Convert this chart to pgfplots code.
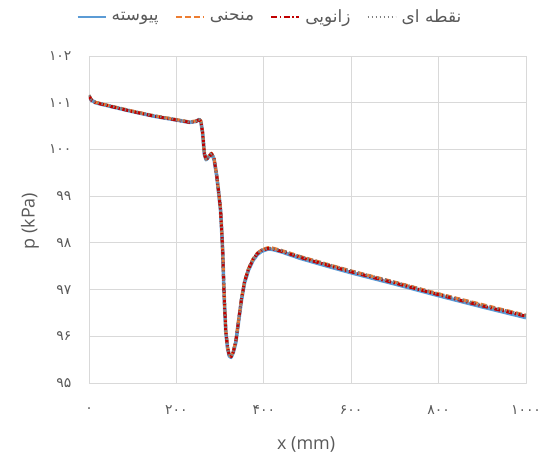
\documentclass[border=0pt]{standalone}
\usepackage{pgfplots}
\pgfplotsset{compat=1.18}
\usepackage{pgfplotstable}
\usepackage{fontspec}
\setmainfont{Open Sans}
\newfontfamily\fa[Script=Arabic]{DejaVu Sans}
\TeXXeTstate=1
\definecolor{cblue}{HTML}{5B9BD5}
\definecolor{corange}{HTML}{ED7D31}
\definecolor{cred}{HTML}{C00000}
\definecolor{cgray}{HTML}{7F7F7F}
\definecolor{ctext}{HTML}{595959}
\definecolor{cgrid}{HTML}{D9D9D9}

\pgfplotstableread{
x y
0 101.15
5 101.06
15 101.00
50 100.92
100 100.81
150 100.71
200 100.63
230 100.58
245 100.60
252 100.64
256 100.60
260 100.35
264 99.90
268 99.78
274 99.84
280 99.91
286 99.80
292 99.45
297 99.05
301 98.70
304 98.20
306 97.80
308 97.20
310 96.70
313 96.10
317 95.75
321 95.58
325 95.55
330 95.65
336 95.87
342 96.30
349 96.78
356 97.15
365 97.42
375 97.62
385 97.75
395 97.82
410 97.87
420 97.86
440 97.81
483 97.67
550 97.49
600 97.36
700 97.12
800 96.87
900 96.63
1000 96.40
}\blue

\pgfplotstableread{
x y
0 101.16
5 101.07
15 101.01
50 100.93
100 100.82
150 100.72
200 100.64
230 100.59
245 100.61
252 100.65
256 100.61
260 100.37
264 99.92
268 99.79
274 99.85
280 99.92
286 99.82
292 99.47
297 99.07
301 98.72
304 98.22
306 97.82
308 97.22
310 96.72
313 96.12
317 95.77
321 95.60
325 95.57
330 95.67
336 95.90
342 96.33
349 96.81
356 97.18
365 97.45
375 97.65
385 97.78
395 97.85
410 97.90
420 97.89
440 97.84
483 97.71
550 97.53
600 97.40
700 97.16
800 96.91
900 96.68
1000 96.45
}\orange

\pgfplotstableread{
x y
0 101.15
5 101.06
15 101.00
50 100.92
100 100.81
150 100.71
200 100.63
230 100.58
245 100.60
252 100.64
256 100.60
260 100.36
264 99.91
268 99.78
274 99.84
280 99.91
286 99.81
292 99.46
297 99.06
301 98.71
304 98.21
306 97.81
308 97.21
310 96.71
313 96.11
317 95.76
321 95.59
325 95.56
330 95.66
336 95.89
342 96.32
349 96.80
356 97.17
365 97.44
375 97.64
385 97.77
395 97.84
410 97.88
420 97.87
440 97.82
483 97.69
550 97.51
600 97.38
700 97.14
800 96.89
900 96.65
1000 96.43
}\red

\pgfplotstableread{
x y
0 101.16
5 101.07
15 101.01
50 100.93
100 100.82
150 100.72
200 100.64
230 100.59
245 100.61
252 100.65
256 100.61
260 100.37
264 99.92
268 99.79
274 99.85
280 99.92
286 99.82
292 99.47
297 99.07
301 98.72
304 98.22
306 97.82
308 97.22
310 96.72
313 96.12
317 95.77
321 95.60
325 95.57
330 95.67
336 95.90
342 96.33
349 96.81
356 97.18
365 97.45
375 97.65
385 97.78
395 97.85
410 97.89
420 97.88
440 97.84
483 97.71
550 97.53
600 97.40
700 97.16
800 96.91
900 96.67
1000 96.45
}\gray

\begin{document}
\begin{tikzpicture}
\path[use as bounding box] (-89bp,-71bp) rectangle (454bp,383bp);
\begin{axis}[
  at={(0,0)}, anchor=south west,
  scale only axis, width=437bp, height=327bp,
  xmin=0, xmax=1000, ymin=95, ymax=102,
  xtick={0,200,400,600,800,1000},
  ytick={95,96,97,98,99,100,101,102},
  xticklabels={{\fa ۰},{\fa ۲۰۰},{\fa ۴۰۰},{\fa ۶۰۰},{\fa ۸۰۰},{\fa ۱۰۰۰}},
  yticklabels={{\fa ۹۵},{\fa ۹۶},{\fa ۹۷},{\fa ۹۸},{\fa ۹۹},{\fa ۱۰۰},{\fa ۱۰۱},{\fa ۱۰۲}},
  grid=major,
  grid style={draw=cgrid, line width=0.75bp},
  axis line style={draw=cgrid, line width=0.75bp},
  major tick length=0pt,
  tick style={draw=none},
  ticklabel style={font=\fontsize{14}{16}\selectfont, text=ctext},
  xticklabel style={anchor=center, yshift=-27bp},
  yticklabel style={anchor=east, xshift=-14bp},
  xlabel={x (mm)},
  ylabel={p (kPa)},
  label style={font=\fontsize{18}{20}\selectfont, text=ctext},
  xlabel style={at={(axis description cs:0.497,-0.187)}, anchor=center},
  ylabel style={at={(axis description cs:-0.135,0.495)}, anchor=center},
  legend columns=4,
  legend style={at={(axis description cs:0.414,1)}, anchor=center, yshift=39bp,
    draw=none, fill=none, font=\fa\fontsize{17}{19}\selectfont, text=ctext,
    /tikz/every even column/.append style={column sep=14bp},
    /tikz/every odd column/.append style={column sep=3bp}},
  legend image code/.code={\draw[#1, line width=2.2bp] (0bp,0bp) -- (28bp,0bp);},
  line join=round,
]
\addplot[cblue, line width=3.6bp] table {\blue};
\addlegendentry{\beginR پیوسته\endR}
\addplot[corange, line width=3bp, dash pattern=on 6bp off 3bp] table {\orange};
\addlegendentry{\beginR منحنی\endR}
\addplot[cred, line width=3bp, dash pattern=on 6bp off 2.5bp on 1.5bp off 2.5bp] table {\red};
\addlegendentry{\beginR زانویی\endR}
\addplot[cgray, line width=2.8bp, dash pattern=on 1.5bp off 2.5bp] table {\gray};
\addlegendentry{\beginR نقطه ای\endR}
\end{axis}
\end{tikzpicture}
\end{document}
